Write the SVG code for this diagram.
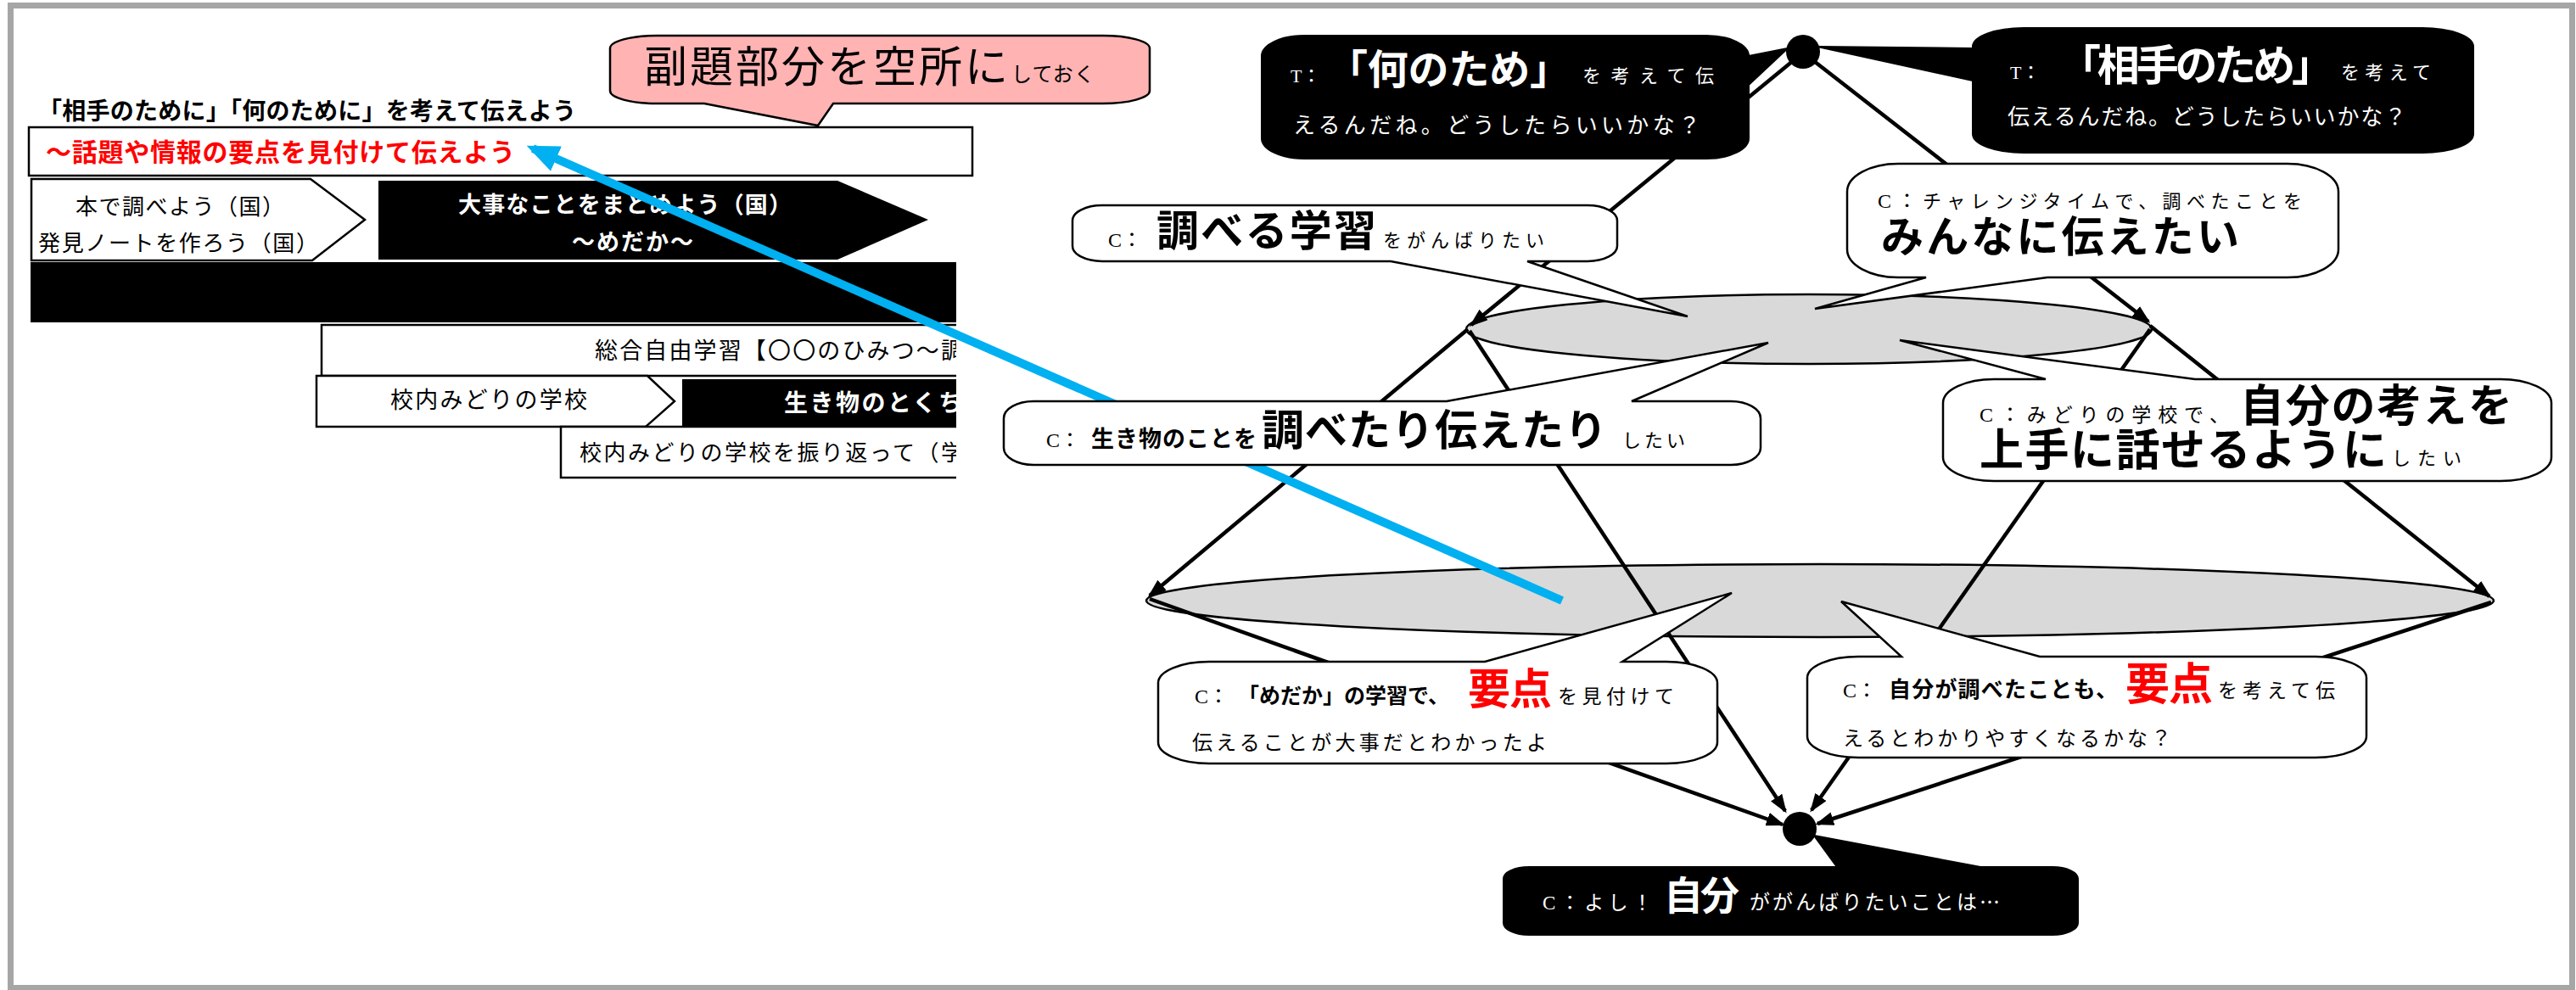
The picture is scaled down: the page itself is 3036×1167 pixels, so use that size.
<svg xmlns="http://www.w3.org/2000/svg" width="3036" height="1167" viewBox="0 0 3036 1167">
<style>
text{font-family:'Noto Sans CJK JP','Noto Sans CJK SC',sans-serif;fill:#000}
.b{font-weight:700}
.w{fill:#fff}
.r{fill:#ff0000}
.c{font-family:'Liberation Serif','Noto Sans CJK JP',serif}
.ln{fill:#fff;stroke:#000;stroke-width:2.5}
.blk{fill:#000}
.bub{fill:#fff;stroke:#000;stroke-width:2.5;stroke-linejoin:miter}
.bbub{fill:#000;stroke:#000;stroke-width:2}
.ell{fill:#d9d9d9;stroke:#000;stroke-width:2.5}
.con{stroke:#000;stroke-width:4.5;fill:none;marker-end:url(#arr)}
</style>
<defs>
<marker id="arr" markerUnits="userSpaceOnUse" viewBox="0 0 22 16" markerWidth="22" markerHeight="16" refX="19" refY="8" orient="auto">
<path d="M0,0 L22,8 L0,16 Z" fill="#000"/>
</marker>
<marker id="barr" markerUnits="userSpaceOnUse" viewBox="0 0 38 32" markerWidth="38" markerHeight="32" refX="30" refY="16" orient="auto">
<path d="M0,0 L38,16 L0,32 Z" fill="#00b0f0"/>
</marker>
<clipPath id="lp"><rect x="0" y="200" width="1127" height="400"/></clipPath>
</defs>
<rect x="0" y="0" width="3036" height="1167" fill="#fff"/>
<rect x="12.5" y="6.5" width="3019" height="1158" fill="#fff" stroke="#a6a6a6" stroke-width="7"/>

<g id="left-panel">
<g id="title"><text x="45" y="141" font-size="28" class="b" textLength="634">「相手のために」「何のために」を考えて伝えよう</text></g>
<g id="subtitle-box">
<rect x="34" y="150" width="1112" height="57" class="ln"/>
<text x="54" y="190" font-size="30" class="b r" textLength="553">～話題や情報の要点を見付けて伝えよう</text>
</g>
<g clip-path="url(#lp)">
<g id="step1">
<polygon points="37,211 366,211 430,259 368,307 37,307" class="ln"/>
<text x="89" y="253" font-size="26" textLength="246">本で調べよう（国）</text>
<text x="45" y="296" font-size="26" textLength="330">発見ノートを作ろう（国）</text>
</g>
<g id="step2">
<polygon points="446,213 987,213 1094,259 987,306 446,306" class="blk"/>
<text x="540" y="251" font-size="27" class="b w" textLength="393">大事なことをまとめよう（国）</text>
<text x="674" y="295" font-size="27" class="b w" textLength="143">～めだか～</text>
</g>
<g id="bar"><rect x="36" y="309" width="1100" height="71" class="blk"/></g>
<g id="step3">
<rect x="379" y="383" width="760" height="60" class="ln"/>
<text x="701" y="423" font-size="27" textLength="435">総合自由学習【〇〇のひみつ～調</text>
</g>
<g id="step4">
<polygon points="373,443 763,443 795,473 761,503 373,503" class="ln"/>
<text x="460" y="481" font-size="27" textLength="232">校内みどりの学校</text>
</g>
<g id="step5">
<rect x="804" y="447" width="340" height="55" class="blk"/>
<text x="924" y="485" font-size="28" class="b w" textLength="210">生き物のとくち</text>
</g>
<g id="step6">
<rect x="661" y="503" width="480" height="60" class="ln"/>
<text x="683" y="543" font-size="26" textLength="452">校内みどりの学校を振り返って（学</text>
</g>
</g>
<g id="note">
<path class="bub" style="fill:#ffb3b3" d="M774,42 H1300 A55,15 0 0 1 1355,57 V107 A55,15 0 0 1 1300,122 H982 L964,148 L830,122 H774 A55,15 0 0 1 719,107 V57 A55,15 0 0 1 774,42 Z"/>
<text x="759" y="97" font-size="51" textLength="429">副題部分を空所に</text>
<text x="1192" y="96" font-size="24" textLength="98">しておく</text>
</g>
</g>

<g id="ellipse-upper"><ellipse cx="2132" cy="388" rx="404" ry="41" class="ell"/></g>
<g id="ellipse-lower"><ellipse cx="2145" cy="708" rx="794" ry="43" class="ell"/></g>

<g id="connectors">
<line x1="2125" y1="62" x2="1734" y2="383" class="con"/>
<line x1="2125" y1="62" x2="2532" y2="379" class="con"/>
<line x1="1730" y1="388" x2="1355" y2="702" class="con"/>
<line x1="1732" y1="390" x2="2104" y2="956" class="con"/>
<line x1="2534" y1="384" x2="2934" y2="703" class="con"/>
<line x1="2534" y1="388" x2="2135" y2="955" class="con"/>
<line x1="1355" y1="706" x2="2101" y2="972" class="con"/>
<line x1="2936" y1="710" x2="2142" y2="971" class="con"/>
<line x1="1841" y1="708" x2="628" y2="175" stroke="#00b0f0" stroke-width="10" marker-end="url(#barr)"/>
</g>

<g id="dot-top"><circle cx="2125" cy="61" r="20" class="blk"/></g>
<g id="dot-bottom"><circle cx="2121" cy="977" r="20" class="blk"/></g>

<g id="t-left">
<path class="bbub" d="M1537,42 H2011 A50,24 0 0 1 2061,66 L2107,57 L2061,100 V163 A50,24 0 0 1 2011,187 H1537 A50,24 0 0 1 1487,163 V66 A50,24 0 0 1 1537,42 Z"/>
<text x="1521" y="97" font-size="22" class="c w">T：</text>
<text x="1564" y="99" font-size="48" class="b w" textLength="287">「何のため」</text>
<text x="1865" y="97" font-size="22" class="w" textLength="155">を考えて伝</text>
<text x="1524" y="157" font-size="26" class="w" textLength="480">えるんだね。どうしたらいいかな？</text>
</g>

<g id="t-right">
<path class="bbub" d="M2385,33 H2855 A60,22 0 0 1 2915,55 V158 A60,22 0 0 1 2855,180 H2385 A60,22 0 0 1 2325,158 V95 L2142,55 L2325,57 V55 A60,22 0 0 1 2385,33 Z"/>
<text x="2369" y="93" font-size="22" class="c w">T：</text>
<text x="2426" y="95" font-size="50" class="b w" textLength="325">「相手のため」</text>
<text x="2759" y="93" font-size="22" class="w" textLength="106">を考えて</text>
<text x="2366" y="147" font-size="26" class="w" textLength="470">伝えるんだね。どうしたらいいかな？</text>
</g>

<g id="c-study">
<path class="bub" d="M1299,242 H1871 A35,18 0 0 1 1906,260 V290 A35,18 0 0 1 1871,308 H1800 L1989,373 L1639,308 H1299 A35,18 0 0 1 1264,290 V260 A35,18 0 0 1 1299,242 Z"/>
<text x="1306" y="291" font-size="24" class="c">C：</text>
<text x="1363" y="290" font-size="50" class="b" textLength="259">調べる学習</text>
<text x="1630" y="291" font-size="22" textLength="190">をがんばりたい</text>
</g>

<g id="c-tell">
<path class="bub" d="M2237,193 H2696 A60,33 0 0 1 2756,226 V294 A60,33 0 0 1 2696,327 H2413 L2139,364 L2270,327 H2237 A60,33 0 0 1 2177,294 V226 A60,33 0 0 1 2237,193 Z"/>
<text x="2213" y="245" font-size="22" textLength="500"><tspan class="c" font-size="24">C：</tspan>チャレンジタイムで、調べたことを</text>
<text x="2217" y="297" font-size="50" class="b" textLength="422">みんなに伝えたい</text>
</g>

<g id="c-living">
<path class="bub" d="M1218,473 H1705 L2084,404 L1923,473 H2040 A35,20 0 0 1 2075,493 V528 A35,20 0 0 1 2040,548 H1218 A35,20 0 0 1 1183,528 V493 A35,20 0 0 1 1218,473 Z"/>
<text x="1233" y="527" font-size="24" class="c">C：</text>
<text x="1286" y="527" font-size="27" class="b" textLength="195">生き物のことを</text>
<text x="1487" y="525" font-size="50" class="b" textLength="407">調べたり伝えたり</text>
<text x="1912" y="527" font-size="22" textLength="74">したい</text>
</g>

<g id="c-own">
<path class="bub" d="M2350,447 H2411 L2239,401 L2587,447 H2947 A60,28 0 0 1 3007,475 V539 A60,28 0 0 1 2947,567 H2350 A60,28 0 0 1 2290,539 V475 A60,28 0 0 1 2350,447 Z"/>
<text x="2333" y="497" font-size="23" textLength="294"><tspan class="c" font-size="24">C：</tspan>みどりの学校で、</text>
<text x="2640" y="497" font-size="52" class="b" textLength="321">自分の考えを</text>
<text x="2333" y="549" font-size="52" class="b" textLength="480">上手に話せるように</text>
<text x="2819" y="548" font-size="22" textLength="82">したい</text>
</g>

<g id="c-medaka">
<path class="bub" d="M1425,780 H1750 L2041,699 L1912,780 H1964 A60,25 0 0 1 2024,805 V875 A60,25 0 0 1 1964,900 H1425 A60,25 0 0 1 1365,875 V805 A60,25 0 0 1 1425,780 Z"/>
<text x="1408" y="829" font-size="24" class="c">C：</text>
<text x="1459" y="829" font-size="25" class="b" textLength="249">「めだか」の学習で、</text>
<text x="1730" y="830" font-size="50" class="b r" textLength="99">要点</text>
<text x="1836" y="829" font-size="23" textLength="137">を見付けて</text>
<text x="1405" y="884" font-size="24" textLength="418">伝えることが大事だとわかったよ</text>
</g>

<g id="c-point">
<path class="bub" d="M2190,774 H2241 L2170,709 L2404,774 H2729 A60,25 0 0 1 2789,799 V868 A60,25 0 0 1 2729,893 H2190 A60,25 0 0 1 2130,868 V799 A60,25 0 0 1 2190,774 Z"/>
<text x="2172" y="822" font-size="24" class="c">C：</text>
<text x="2226" y="822" font-size="26" class="b" textLength="270">自分が調べたことも、</text>
<text x="2505" y="825" font-size="52" class="b r" textLength="103">要点</text>
<text x="2614" y="822" font-size="23" textLength="138">を考えて伝</text>
<text x="2172" y="879" font-size="24" textLength="387">えるとわかりやすくなるかな？</text>
</g>

<g id="c-self">
<path class="bbub" d="M1802,1022 H2165 L2138,985 L2334,1022 H2419 A30,14 0 0 1 2449,1036 V1088 A30,14 0 0 1 2419,1102 H1802 A30,14 0 0 1 1772,1088 V1036 A30,14 0 0 1 1802,1022 Z"/>
<text x="1818" y="1072" font-size="23" class="c w" textLength="129">C：よし！</text>
<text x="1961" y="1072" font-size="46" class="b w" textLength="89">自分</text>
<text x="2062" y="1072" font-size="24" class="w" textLength="295">ががんばりたいことは…</text>
</g>
</svg>
